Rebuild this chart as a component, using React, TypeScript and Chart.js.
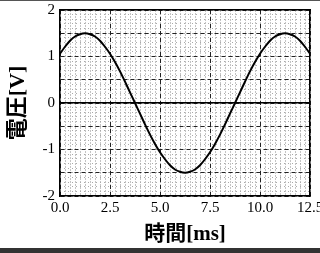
import React, { useEffect, useRef } from "react";
import { Chart, registerables } from "chart.js";

Chart.register(...registerables);

// time [ms]
const times = [
  0, 0.25, 0.5, 0.75, 1, 1.25, 1.5, 1.75, 2, 2.25, 2.5, 2.75, 3, 3.25, 3.5, 3.75,
  4, 4.25, 4.5, 4.75, 5, 5.25, 5.5, 5.75, 6, 6.25, 6.5, 6.75, 7, 7.25, 7.5, 7.75,
  8, 8.25, 8.5, 8.75, 9, 9.25, 9.5, 9.75, 10, 10.25, 10.5, 10.75, 11, 11.25, 11.5,
  11.75, 12, 12.25, 12.5,
];
// voltage [V]
const volts = [
  1.06, 1.21, 1.34, 1.43, 1.48, 1.5, 1.48, 1.43, 1.34, 1.21, 1.06, 0.88, 0.68, 0.46,
  0.23, 0, -0.23, -0.46, -0.68, -0.88, -1.06, -1.21, -1.34, -1.43, -1.48, -1.5, -1.48,
  -1.43, -1.34, -1.21, -1.06, -0.88, -0.68, -0.46, -0.23, 0, 0.23, 0.46, 0.68, 0.88,
  1.06, 1.21, 1.34, 1.43, 1.48, 1.5, 1.48, 1.43, 1.34, 1.21, 1.06,
];

const xTitle = "時間[ms]";
const yTitle = "電圧[V]";
const xMin = 0, xMax = 12.5, xStep = 2.5, xMinorStep = 0.25;
const yMin = -2, yMax = 2, yStep = 0.5, yMinorStep = 0.1;

const SERIF = "'Liberation Serif', 'Times New Roman', 'Noto Sans CJK JP', serif";

export default function App() {
  const ref = useRef<HTMLCanvasElement | null>(null);

  useEffect(() => {
    document.body.style.margin = "0";
    const canvas = ref.current!;
    const zeroAxisFit = (s: any) => {
      if (s.isHorizontal()) s.height = 0; else s.width = 0;
      s.paddingLeft = 0; s.paddingRight = 0; s.paddingTop = 0; s.paddingBottom = 0;
    };
    const chart = new Chart(canvas, {
      type: "line",
      data: {
        datasets: [
          {
            data: times.map((t, i) => ({ x: t, y: volts[i] })),
            borderColor: "#000",
            borderWidth: 2,
            pointRadius: 0,
            tension: 0.3,
            fill: false,
            xAxisID: "x",
            yAxisID: "y",
          },
        ],
      },
      options: {
        responsive: false,
        animation: false,
        devicePixelRatio: 1,
        layout: { padding: { top: 10, right: 10, left: 0, bottom: 0 } },
        plugins: { legend: { display: false }, tooltip: { enabled: false } },
        scales: {
          xMinor: {
            type: "linear",
            position: "top",
            min: xMin,
            max: xMax,
            ticks: { display: false, stepSize: xMinorStep, autoSkip: false, maxTicksLimit: 1000 },
            grid: { color: "#8a8a8a", lineWidth: 1, drawTicks: false },
            border: { display: true, color: "#000", width: 1.5, dash: [1, 2] },
            afterFit: zeroAxisFit,
          },
          yMinor: {
            type: "linear",
            position: "right",
            min: yMin,
            max: yMax,
            ticks: { display: false, stepSize: yMinorStep, autoSkip: false, maxTicksLimit: 1000 },
            grid: { color: "#aaaaaa", lineWidth: 1, drawTicks: false },
            border: { display: true, color: "#000", width: 1.5, dash: [1, 3] },
            afterFit: zeroAxisFit,
          },
          x: {
            type: "linear",
            position: "bottom",
            min: xMin,
            max: xMax,
            ticks: {
              stepSize: xStep,
              color: "#000",
              padding: 3,
              maxRotation: 0,
              font: { family: SERIF, size: 15 },
              callback: (v: any) => Number(v).toFixed(1),
            },
            grid: { color: "#222", lineWidth: 1, drawTicks: false },
            border: { display: true, color: "#000", width: 1.5, dash: [4, 3] },
            title: {
              display: true,
              text: xTitle,
              color: "#000",
              font: { family: SERIF, size: 21, weight: "bold" },
              padding: { top: 0, bottom: 6 },
            },
            afterFit: (s: any) => {
              s.height = 57;
              s.paddingLeft = 0; s.paddingRight = 0;
            },
          },
          y: {
            type: "linear",
            position: "left",
            min: yMin,
            max: yMax,
            ticks: {
              stepSize: yStep,
              color: "#000",
              padding: 5,
              font: { family: SERIF, size: 15 },
              callback: (v: any) => (Number(v) % 1 === 0 ? String(v) : ""),
            },
            grid: { color: "#222", lineWidth: 1, drawTicks: false },
            border: { display: true, color: "#000", width: 1.5, dash: [4, 3] },
            title: {
              display: true,
              text: yTitle,
              color: "#000",
              font: { family: SERIF, size: 22, weight: "bold" },
              padding: { top: 5, bottom: 0 },
            },
            afterFit: (s: any) => {
              s.width = 60;
              s.paddingTop = 0; s.paddingBottom = 0;
            },
          },
          yZero: {
            type: "linear",
            position: "left",
            min: yMin,
            max: yMax,
            afterBuildTicks: (s: any) => {
              s.ticks = [{ value: 0 }];
            },
            ticks: { display: false },
            grid: { color: "#000", lineWidth: 1.5, drawTicks: false },
            border: { display: false },
            afterFit: zeroAxisFit,
          },
        },
      } as any,
    });
    return () => chart.destroy();
  }, []);

  return (
    <div style={{ position: "relative", width: 320, height: 253, background: "#fff" }}>
      <canvas ref={ref} width={320} height={253} style={{ display: "block" }} />
      <div style={{ position: "absolute", left: 0, top: 0, width: 320, height: 1, background: "#555" }} />
      <div style={{ position: "absolute", left: 0, top: 248, width: 320, height: 5, background: "#333" }} />
    </div>
  );
}
